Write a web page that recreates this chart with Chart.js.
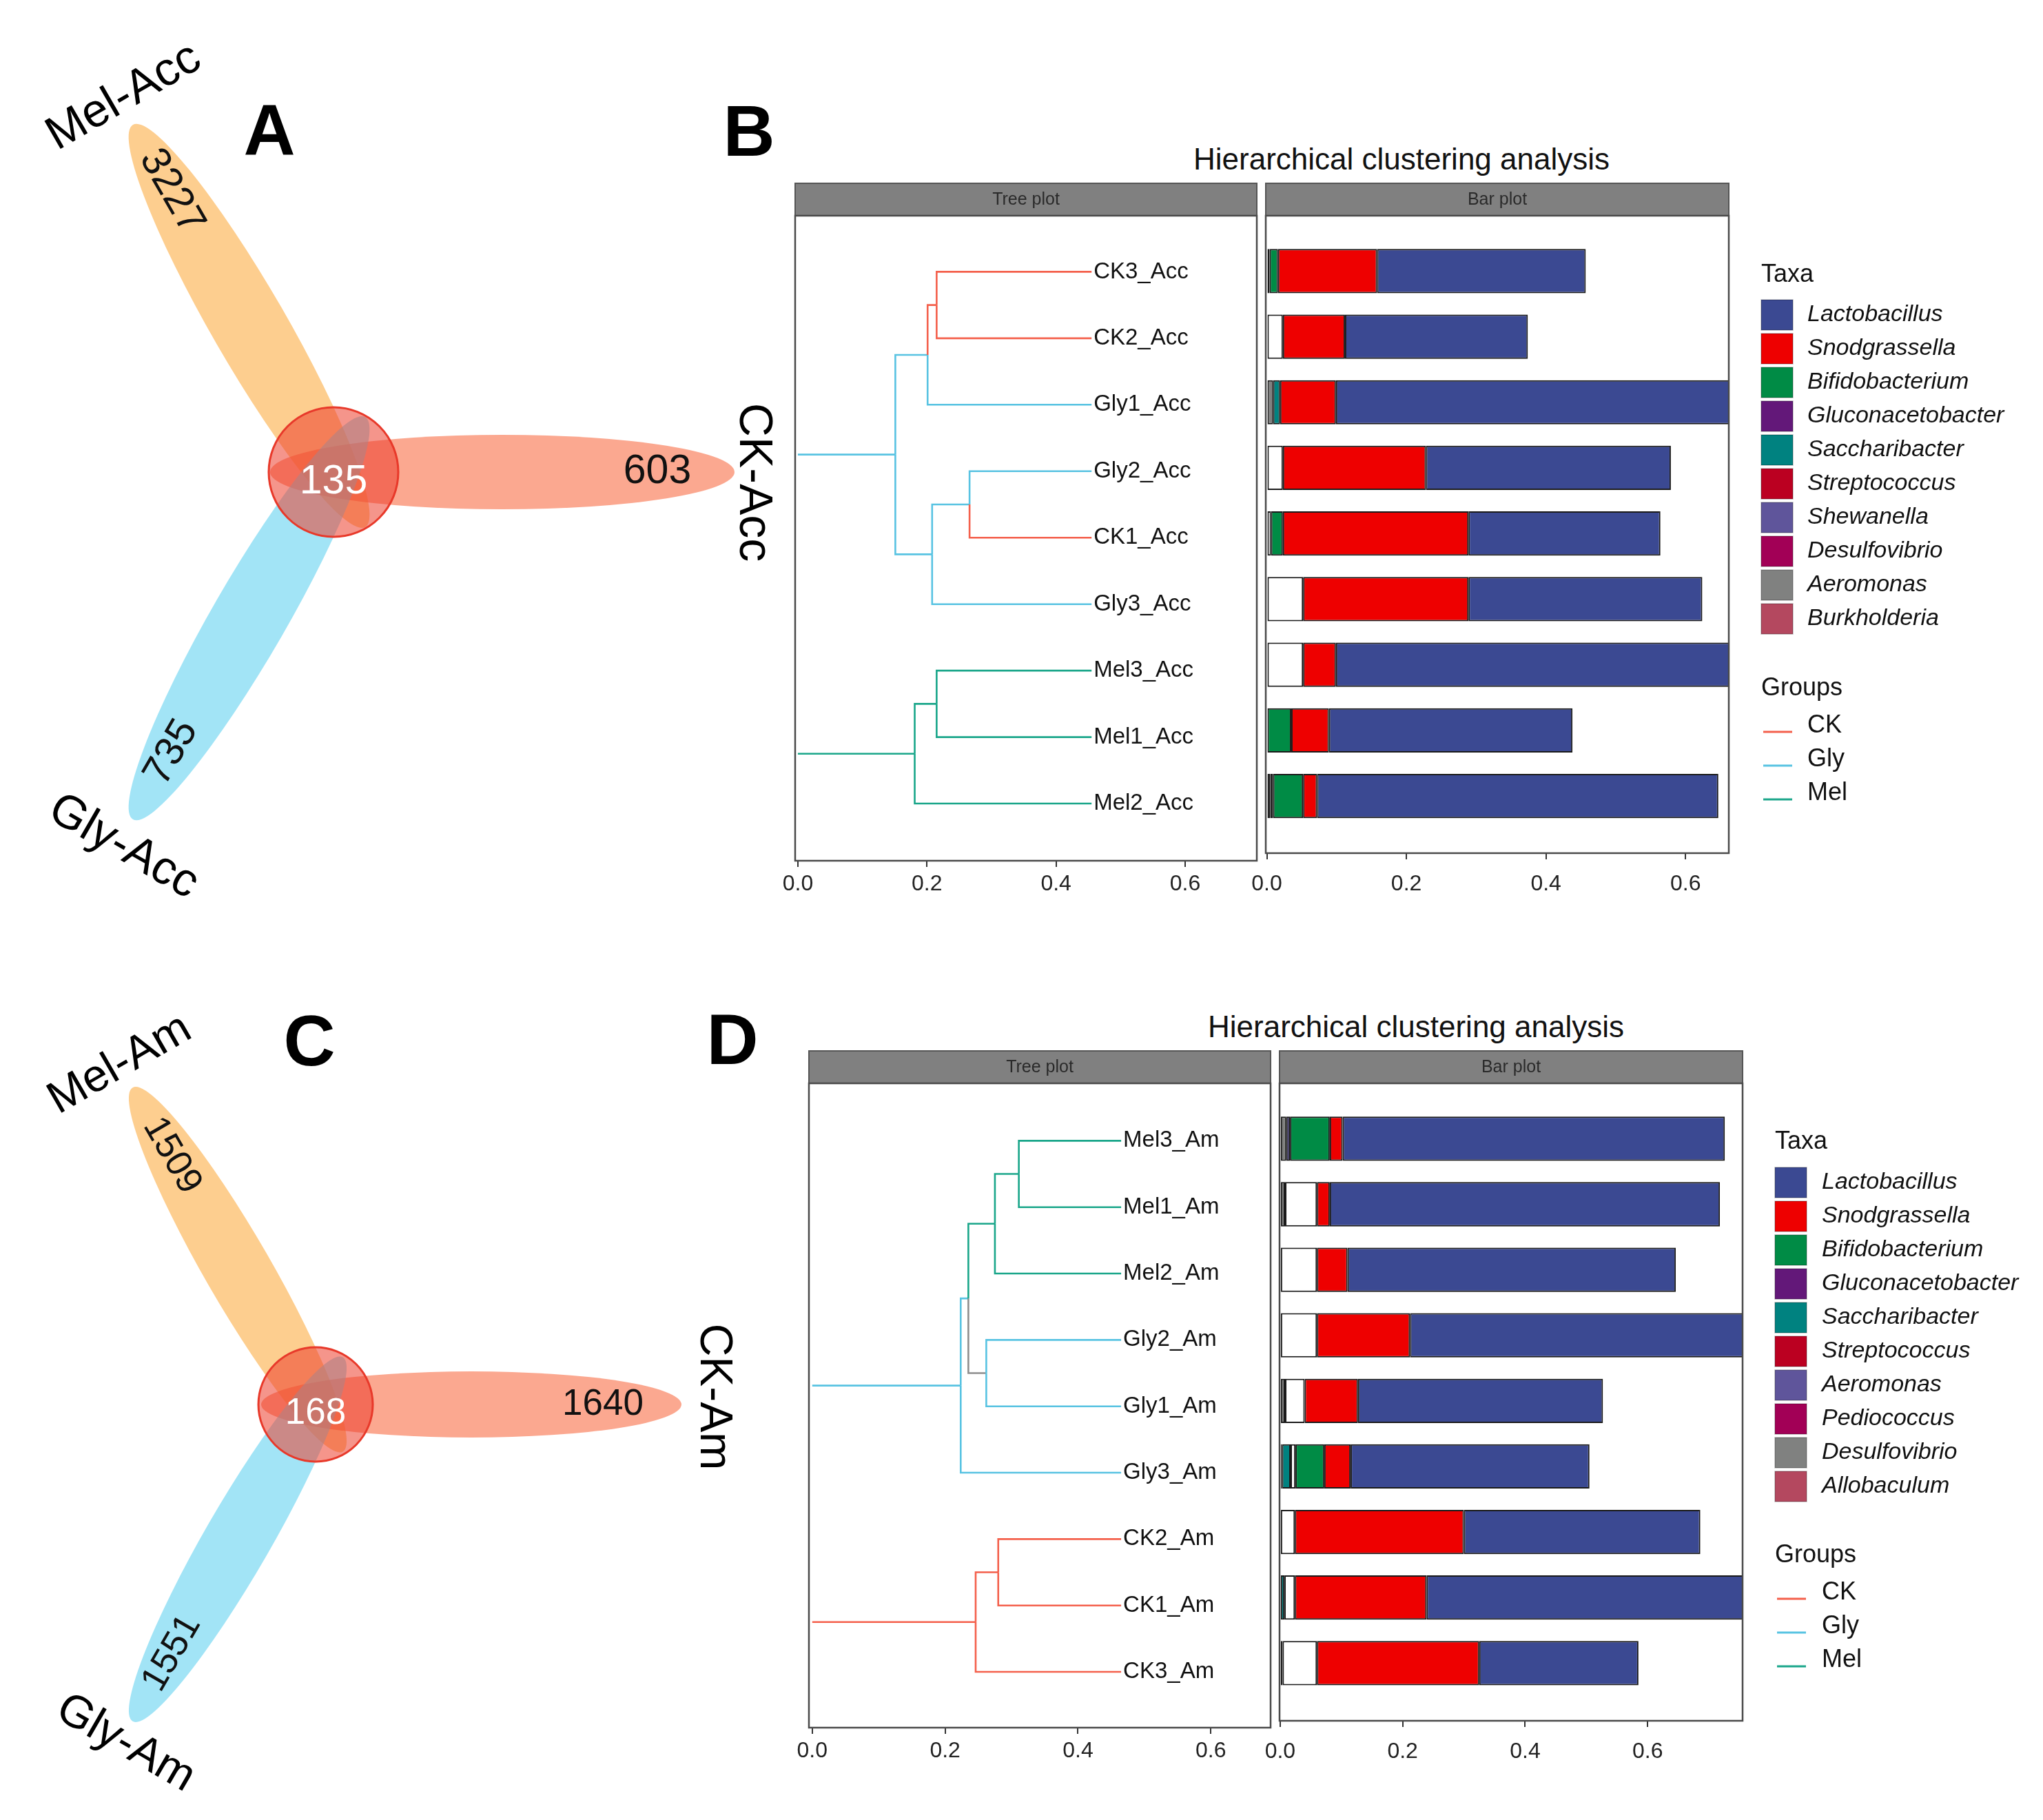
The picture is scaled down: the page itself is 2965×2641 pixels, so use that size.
<!DOCTYPE html>
<html>
<head>
<meta charset="utf-8">
<script src="https://cdn.jsdelivr.net/npm/chart.js@4.4.1/dist/chart.umd.min.js"></script>
<style>
  body { margin: 0; background: #fff; width: 2965px; height: 2641px; position: relative; overflow: hidden;
         font-family: "Liberation Sans", Arial, sans-serif; }
  canvas { position: absolute; }
  .lbl { position: absolute; transform: translate(-50%, -50%); white-space: nowrap; line-height: 1; color: #000; }
  .letter { font-weight: bold; font-size: 104px; }
  .title { font-size: 44px; color: #111; }
</style>
</head>
<body>
<div class="lbl letter" style="left:391px;top:188px">A</div>
<div class="lbl letter" style="left:1087px;top:190px">B</div>
<div class="lbl letter" style="left:449px;top:1510px">C</div>
<div class="lbl letter" style="left:1063px;top:1508px">D</div>
<div class="lbl title" style="left:2034px;top:231px">Hierarchical clustering analysis</div>
<div class="lbl title" style="left:2055px;top:1490px">Hierarchical clustering analysis</div>

<canvas id="vennA" width="1140" height="1340" style="left:0;top:0"></canvas>
<canvas id="vennC" width="1140" height="1301" style="left:0;top:1340px"></canvas>
<canvas id="treeB" width="726" height="1090" style="left:1124px;top:250px"></canvas>
<canvas id="barB" width="1178" height="1090" style="left:1787px;top:250px"></canvas>
<canvas id="treeD" width="726" height="1120" style="left:1144px;top:1509px"></canvas>
<canvas id="barD" width="1158" height="1120" style="left:1807px;top:1509px"></canvas>

<script>
Chart.defaults.font.family = '"Liberation Sans", Arial, sans-serif'
Chart.defaults.color = '#222'
Chart.defaults.animation = false

// ---- flower (Venn) panels A and C
const accSets = ['Mel-Acc', 'CK-Acc', 'Gly-Acc']
const accUnique = [3227, 603, 735]
const accCore = 135
const amSets = ['Mel-Am', 'CK-Am', 'Gly-Am']
const amUnique = [1509, 1640, 1551]
const amCore = 168

// ---- panel B: samples top to bottom, tree merges, stacked abundances
const accSamples = ['CK3_Acc', 'CK2_Acc', 'Gly1_Acc', 'Gly2_Acc', 'CK1_Acc', 'Gly3_Acc', 'Mel3_Acc', 'Mel1_Acc', 'Mel2_Acc']
const accLeafHeight = 0.455
const accMerges = [[0, 1], [9, 2], [3, 4], [11, 5], [10, 12], [6, 7], [14, 8], [13, 15]]
const accMergeHeights = [0.215, 0.201, 0.266, 0.208, 0.151, 0.215, 0.181, 0]
const accMergeGroups = ['CK', 'Gly', 'Gly', 'Gly', 'Gly', 'Mel', 'Mel', 'Gly']

const accAeromonas = [0, 0, 0.009, 0, 0, 0, 0, 0, 0.005]
const accSaccharibacter = [0, 0, 0.010, 0, 0, 0, 0, 0, 0]
const accOthers = [0.004, 0.023, 0, 0.023, 0.006, 0.052, 0.052, 0, 0.004]
const accBifido = [0.012, 0, 0, 0, 0.017, 0, 0, 0.035, 0.043]
const accSnod = [0.142, 0.089, 0.080, 0.205, 0.266, 0.237, 0.047, 0.054, 0.020]
const accLacto = [0.299, 0.262, 0.630, 0.351, 0.275, 0.335, 0.620, 0.349, 0.575]

// ---- panel D
const amSamples = ['Mel3_Am', 'Mel1_Am', 'Mel2_Am', 'Gly2_Am', 'Gly1_Am', 'Gly3_Am', 'CK2_Am', 'CK1_Am', 'CK3_Am']
const amLeafHeight = 0.465
const amMerges = [[0, 1], [9, 2], [3, 4], [10, 11], [12, 5], [6, 7], [14, 8], [13, 15]]
const amMergeHeights = [0.311, 0.275, 0.262, 0.235, 0.2235, 0.280, 0.246, 0]
const amMergeGroups = ['Mel', 'Mel', 'mix', 'Gly', 'Gly', 'CK', 'CK', 'Gly']

const amDesulfo = [0.010, 0.008, 0, 0, 0.008, 0, 0, 0, 0]
const amAeromonas = [0.006, 0, 0, 0, 0, 0.003, 0, 0, 0]
const amSaccharibacter = [0, 0, 0, 0, 0, 0.014, 0, 0.007, 0]
const amStrep = [0, 0, 0, 0, 0, 0, 0, 0, 0.004]
const amOthers = [0, 0.052, 0.060, 0.060, 0.032, 0.008, 0.024, 0.017, 0.056]
const amBifido = [0.065, 0, 0, 0, 0, 0.047, 0, 0, 0]
const amSnod = [0.021, 0.021, 0.050, 0.152, 0.087, 0.043, 0.276, 0.215, 0.265]
const amLacto = [0.624, 0.637, 0.536, 0.560, 0.400, 0.390, 0.386, 0.550, 0.260]

const accTaxa = ['Lactobacillus', 'Snodgrassella', 'Bifidobacterium', 'Gluconacetobacter', 'Saccharibacter',
  'Streptococcus', 'Shewanella', 'Desulfovibrio', 'Aeromonas', 'Burkholderia']
const amTaxa = ['Lactobacillus', 'Snodgrassella', 'Bifidobacterium', 'Gluconacetobacter', 'Saccharibacter',
  'Streptococcus', 'Aeromonas', 'Pediococcus', 'Desulfovibrio', 'Allobaculum']
const taxaColors = ['#3B4992', '#EE0000', '#008B45', '#631879', '#008280', '#BB0021', '#5F559B', '#A20056', '#808180', '#B4485F']
const groupNames = ['CK', 'Gly', 'Mel']
const groupColors = { CK: '#F4604C', Gly: '#58C3E2', Mel: '#1AA68A', mix: '#8E8E8E' }
const xTicks = [0, 0.2, 0.4, 0.6]

const FONT = '"Liberation Sans", Arial, sans-serif'

// flower diagram: three ellipses + core circle, drawn through the chart's scales
function flowerChart(id, sets, unique, core, g) {
  const canvas = document.getElementById(id)
  const anchors = unique.map((v, i) => {
    const t = g.angles[i] * Math.PI / 180
    return { x: g.cx + Math.cos(t) * g.labelDist, y: g.cy + Math.sin(t) * g.labelDist }
  })
  const plugin = {
    id: 'flower',
    beforeDatasetsDraw(chart) {
      const { ctx } = chart
      const xs = chart.scales.x, ys = chart.scales.y
      const k = xs.getPixelForValue(1) - xs.getPixelForValue(0)
      const cx = xs.getPixelForValue(g.cx), cy = ys.getPixelForValue(g.cy)
      ctx.save()
      g.angles.forEach((a, i) => {
        const t = a * Math.PI / 180
        ctx.beginPath()
        ctx.ellipse(cx + Math.cos(t) * g.offset * k, cy + Math.sin(t) * g.offset * k, g.a * k, g.b * k, t, 0, Math.PI * 2)
        ctx.fillStyle = g.fills[i]
        ctx.fill()
      })
      ctx.beginPath()
      ctx.arc(cx, cy, g.r * k, 0, Math.PI * 2)
      ctx.fillStyle = 'rgba(236,62,44,0.55)'
      ctx.fill()
      ctx.lineWidth = 3
      ctx.strokeStyle = '#E8392A'
      ctx.stroke()
      ctx.restore()
    },
    afterDatasetsDraw(chart) {
      const { ctx } = chart
      const xs = chart.scales.x, ys = chart.scales.y
      const meta = chart.getDatasetMeta(0)
      ctx.save()
      ctx.textAlign = 'center'
      ctx.textBaseline = 'middle'
      ctx.font = g.countSize + 'px ' + FONT
      ctx.fillStyle = '#111'
      unique.forEach((v, i) => {
        const p = meta.data[i]
        ctx.save()
        ctx.translate(p.x, p.y)
        ctx.rotate(g.countRot[i] * Math.PI / 180)
        ctx.fillText(String(v), 0, 0)
        ctx.restore()
      })
      ctx.fillStyle = '#fff'
      ctx.fillText(String(core), xs.getPixelForValue(g.cx), ys.getPixelForValue(g.cy + g.r * 0.16))
      ctx.fillStyle = '#000'
      ctx.font = g.setSize + 'px ' + FONT
      sets.forEach((s, i) => {
        const L = g.setPos[i]
        ctx.save()
        ctx.translate(xs.getPixelForValue(L[0]), ys.getPixelForValue(L[1]))
        ctx.rotate(L[2] * Math.PI / 180)
        ctx.fillText(s, 0, 0)
        ctx.restore()
      })
      ctx.restore()
    }
  }
  new Chart(canvas, {
    type: 'scatter',
    data: { datasets: [{ data: anchors, pointRadius: 0 }] },
    options: {
      responsive: false, devicePixelRatio: 1,
      layout: { padding: 0 },
      plugins: { legend: { display: false }, tooltip: { enabled: false } },
      scales: {
        x: { type: 'linear', display: false, min: 0, max: canvas.width },
        y: { type: 'linear', display: false, min: 0, max: canvas.height, reverse: true }
      }
    },
    plugins: [plugin]
  })
}

// strip header + panel border (ggplot facet look)
function panelPlugin(title) {
  return {
    id: 'panel',
    afterDraw(chart) {
      const { ctx, chartArea: a } = chart
      ctx.save()
      ctx.fillStyle = '#808080'
      ctx.fillRect(a.left, a.top - 47, a.right - a.left, 47)
      ctx.strokeStyle = '#555'
      ctx.lineWidth = 2
      ctx.strokeRect(a.left, a.top - 47, a.right - a.left, 47)
      ctx.fillStyle = '#2a2a2a'
      ctx.font = '25px ' + FONT
      ctx.textAlign = 'center'
      ctx.textBaseline = 'middle'
      ctx.fillText(title, (a.left + a.right) / 2, a.top - 23)
      ctx.lineWidth = 2.5
      ctx.strokeStyle = '#4a4a4a'
      ctx.strokeRect(a.left, a.top, a.right - a.left, a.bottom - a.top)
      ctx.restore()
    }
  }
}

function xAxis(min, max, axisH, pad) {
  return {
    type: 'linear', min, max,
    afterBuildTicks: s => { s.ticks = xTicks.map(v => ({ value: v })) },
    afterFit: s => { s.height = axisH },
    ticks: { callback: v => Number(v).toFixed(1), font: { size: 32 }, color: '#222', padding: pad, maxRotation: 0 },
    grid: { drawOnChartArea: false, drawTicks: true, tickLength: 9, color: '#333', lineWidth: 2 },
    border: { display: false }
  }
}

function buildTree(samples, leafH, merges, heights, groups) {
  const n = samples.length
  const h = samples.map(() => leafH).concat(heights)
  const y = samples.map((s, i) => i + 1)
  const grp = samples.map(s => s.split(/\d/)[0]).concat(groups)
  const parent = []
  merges.forEach((m, k) => {
    y.push((y[m[0]] + y[m[1]]) / 2)
    parent[m[0]] = n + k
    parent[m[1]] = n + k
  })
  const sets = []
  h.forEach((_, i) => {
    const p = parent[i]
    if (p === undefined) return
    const pts = parent[p] === undefined
      ? [{ x: h[p], y: y[i] }, { x: h[i], y: y[i] }]
      : [{ x: h[p], y: y[p] }, { x: h[p], y: y[i] }, { x: h[i], y: y[i] }]
    sets.push({ data: pts, showLine: true, borderColor: groupColors[grp[i]], borderWidth: 2.6,
      pointRadius: 0, fill: false, tension: 0 })
  })
  return sets
}

function treeChart(id, samples, leafH, merges, heights, groups, xr, yr, axisH) {
  const leafLabels = {
    id: 'leafLabels',
    afterDatasetsDraw(chart) {
      const { ctx } = chart
      ctx.save()
      ctx.font = '33px ' + FONT
      ctx.fillStyle = '#111'
      ctx.textBaseline = 'middle'
      samples.forEach((s, i) => {
        ctx.fillText(s, chart.scales.x.getPixelForValue(leafH) + 3, chart.scales.y.getPixelForValue(i + 1))
      })
      ctx.restore()
    }
  }
  new Chart(document.getElementById(id), {
    type: 'scatter',
    data: { datasets: buildTree(samples, leafH, merges, heights, groups) },
    options: {
      responsive: false, devicePixelRatio: 1,
      layout: { padding: { left: 30, right: 26, top: 63, bottom: 0 } },
      plugins: { legend: { display: false }, tooltip: { enabled: false } },
      scales: {
        x: xAxis(xr[0], xr[1], axisH, 6),
        y: { type: 'linear', display: false, reverse: true, min: yr[0], max: yr[1] }
      }
    },
    plugins: [panelPlugin('Tree plot'), leafLabels]
  })
}

function buildBars(layers, taxa) {
  const base = layers[0][1].map(() => 0)
  return layers.map(([name, values]) => {
    const data = []
    values.forEach((v, i) => {
      if (v > 0) data.push({ x: [base[i], base[i] + v], y: i + 1 })
      base[i] += v
    })
    const k = taxa.indexOf(name)
    return { label: name, data, backgroundColor: k < 0 ? '#ffffff' : taxaColors[k], borderColor: '#1a1a1a',
      borderWidth: 2, borderSkipped: false, grouped: false, barPercentage: 0.8, categoryPercentage: 1, clip: 0 }
  })
}

function legendPlugin(taxa, L) {
  return {
    id: 'taxaLegend',
    afterDraw(chart) {
      const { ctx } = chart
      const ox = chart.canvas.offsetLeft, oy = chart.canvas.offsetTop
      ctx.save()
      ctx.textBaseline = 'middle'
      ctx.textAlign = 'left'
      ctx.fillStyle = '#111'
      ctx.font = '36px ' + FONT
      ctx.fillText('Taxa', L.left - ox, L.titleY - oy)
      taxa.forEach((name, i) => {
        const y = L.firstY + i * 49 - oy
        ctx.fillStyle = taxaColors[i]
        ctx.fillRect(L.left - ox, y - 22, 46, 44)
        ctx.strokeStyle = 'rgba(0,0,0,0.25)'
        ctx.lineWidth = 1.5
        ctx.strokeRect(L.left - ox, y - 22, 46, 44)
        ctx.fillStyle = '#111'
        ctx.font = 'italic 34px ' + FONT
        ctx.fillText(name, L.textX - ox, y)
      })
      ctx.font = '36px ' + FONT
      ctx.fillText('Groups', L.left - ox, L.groupsY - oy)
      groupNames.forEach((g, i) => {
        const y = L.lineY + i * 49 - oy
        ctx.strokeStyle = groupColors[g]
        ctx.lineWidth = 3
        ctx.beginPath()
        ctx.moveTo(L.left + 3 - ox, y)
        ctx.lineTo(L.left + 45 - ox, y)
        ctx.stroke()
        ctx.fillStyle = '#111'
        ctx.fillText(g, L.textX - ox, y - 9)
      })
      ctx.restore()
    }
  }
}

function barChart(id, layers, taxa, xr, yr, axisH, pad, legend) {
  new Chart(document.getElementById(id), {
    type: 'bar',
    data: { datasets: buildBars(layers, taxa) },
    options: {
      responsive: false, devicePixelRatio: 1,
      indexAxis: 'y',
      layout: { padding: pad },
      plugins: { legend: { display: false }, tooltip: { enabled: false } },
      scales: {
        x: xAxis(xr[0], xr[1], axisH, 17),
        y: { type: 'linear', display: false, reverse: true, offset: false, min: yr[0], max: yr[1] }
      }
    },
    plugins: [panelPlugin('Bar plot'), legendPlugin(taxa, legend)]
  })
}

const flowerFills = ['rgba(252,185,95,0.7)', 'rgba(248,110,70,0.6)', 'rgba(100,210,240,0.6)']
flowerChart('vennA', accSets, accUnique, accCore, {
  cx: 484, cy: 685, r: 94, offset: 245, a: 337, b: 54, labelDist: 470,
  angles: [-120, 0, 120], countRot: [60, 0, -60], fills: flowerFills,
  countSize: 59, setSize: 68,
  setPos: [[180, 141, -30], [1093, 700, 90], [179, 1229, 30]]
})
flowerChart('vennC', amSets, amUnique, amCore, {
  cx: 458, cy: 698, r: 83, offset: 226, a: 305, b: 48, labelDist: 417,
  angles: [-120, 0, 120], countRot: [60, 0, -60], fills: flowerFills,
  countSize: 53, setSize: 66,
  setPos: [[174, 205, -30], [1035, 687, 90], [182, 1190, 30]]
})

treeChart('treeB', accSamples, accLeafHeight, accMerges, accMergeHeights, accMergeGroups,
  [-0.0042, 0.711], [0.156, 9.86], 91)
treeChart('treeD', amSamples, amLeafHeight, amMerges, amMergeHeights, amMergeGroups,
  [-0.005, 0.690], [0.135, 9.84], 122)

barChart('barB', [['Aeromonas', accAeromonas], ['Saccharibacter', accSaccharibacter], ['Others', accOthers],
  ['Bifidobacterium', accBifido], ['Snodgrassella', accSnod], ['Lactobacillus', accLacto]], accTaxa,
  [-0.0015, 0.662], [0.157, 9.87], 102, { left: 50, right: 456, top: 63, bottom: 0 },
  { left: 2556, titleY: 399, firstY: 457, textX: 2623, groupsY: 999, lineY: 1062 })

barChart('barD', [['Desulfovibrio', amDesulfo], ['Aeromonas', amAeromonas], ['Saccharibacter', amSaccharibacter],
  ['Streptococcus', amStrep], ['Others', amOthers], ['Bifidobacterium', amBifido], ['Snodgrassella', amSnod],
  ['Lactobacillus', amLacto]], amTaxa,
  [-0.001, 0.755], [0.155, 9.88], 132, { left: 50, right: 436, top: 63, bottom: 0 },
  { left: 2576, titleY: 1657, firstY: 1716, textX: 2644, groupsY: 2257, lineY: 2320 })
</script>
</body>
</html>
